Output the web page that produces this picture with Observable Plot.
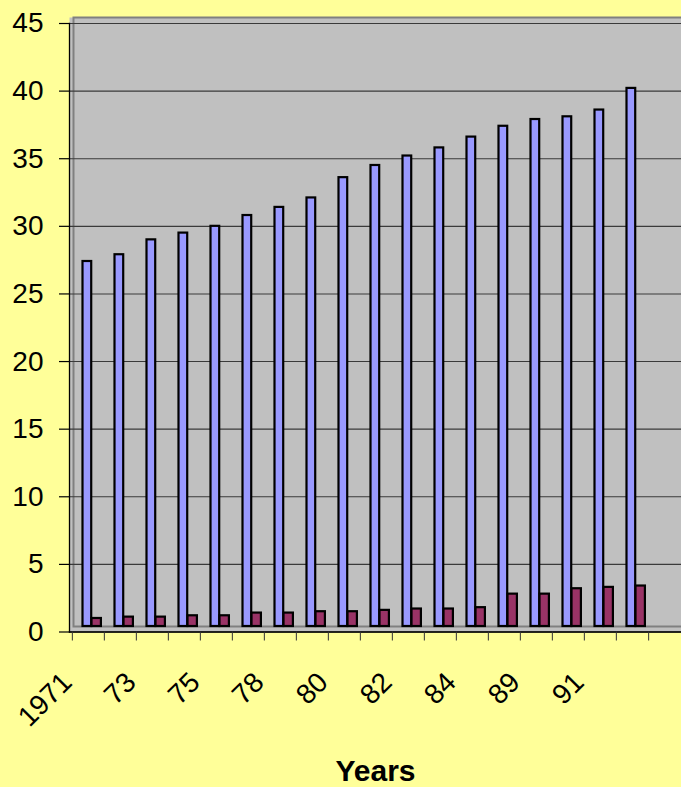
<!DOCTYPE html>
<html>
<head>
<meta charset="utf-8">
<script src="https://cdn.jsdelivr.net/npm/d3@7"></script>
<script src="https://cdn.jsdelivr.net/npm/@observablehq/plot@0.6"></script>
<style>
  html, body { margin: 0; padding: 0; background: #FFFF99; }
  #chart svg { display: block; }
</style>
</head>
<body>
<div id="chart"></div>
<script>
// Categories (only every other one is labelled in the original)
const years = ["1971","72","73","74","75","76","78","79","80","81","82","83","84","85","89","90","91","92"];
const shownLabels = ["1971","73","75","78","80","82","84","89","91"];
// Series values
const seriesBlue = [27.4, 27.9, 29.0, 29.5, 30.0, 30.8, 31.4, 32.1, 33.6, 34.5, 35.2, 35.8, 36.6, 37.4, 37.9, 38.1, 38.6, 40.2];
const seriesMaroon = [1.0, 1.1, 1.1, 1.2, 1.2, 1.4, 1.4, 1.5, 1.5, 1.6, 1.7, 1.7, 1.8, 2.8, 2.8, 3.2, 3.3, 3.4];
const yTicks = [0, 5, 10, 15, 20, 25, 30, 35, 40, 45];
const xTitle = ["Years"];

const blueRows = years.map((y, i) => ({year: y, value: seriesBlue[i]}));
const maroonRows = years.map((y, i) => ({year: y, value: seriesMaroon[i]}));

const W = 681, H = 787;
const xRange = [69, 650.3];
const bw = (xRange[1] - xRange[0]) / years.length;
const font = "'Liberation Sans', Arial, sans-serif";

const chart = Plot.plot({
  width: W,
  height: H,
  marginLeft: 69,
  marginRight: 0,
  marginTop: 23,
  marginBottom: 155.5,
  style: {background: "#FFFF99", fontFamily: font, color: "black", overflow: "visible"},
  x: {type: "band", domain: years, range: xRange, padding: 0, axis: null, label: null},
  y: {domain: [0, 45], axis: null, label: null},
  marks: [
    // plot area (walls + floor)
    Plot.frame({fill: "#C0C0C0", insetTop: -6}),
    Plot.frame({stroke: "#808080", strokeWidth: 2, insetTop: -6, insetLeft: 4, insetBottom: 5.5, insetRight: -10}),
    Plot.gridY(yTicks, {stroke: "#3a3a3a", strokeOpacity: 1, strokeWidth: 1.1}),
    // bars
    Plot.barY(blueRows, {x: "year", y: "value", fill: "#9999FF", stroke: "black", strokeWidth: 2.2,
      insetLeft: 10.5, insetRight: bw - 19.5, insetBottom: 5.5}),
    Plot.barY(maroonRows, {x: "year", y: "value", fill: "#993366", stroke: "black", strokeWidth: 2.2,
      insetLeft: 19.5, insetRight: bw - 29.2, insetBottom: 5.5}),
    // axis lines
    Plot.frame({anchor: "left", stroke: "black", strokeWidth: 1.3}),
    Plot.frame({anchor: "bottom", stroke: "black", strokeWidth: 1.3}),
    // y axis
    Plot.axisY(yTicks, {label: null, tickSize: 10, tickPadding: 16, fontSize: 28, stroke: "black", strokeWidth: 1.2, fill: "black"}),
    // x tick marks at category boundaries
    Plot.axisX({label: null, tickSize: 9, tickFormat: () => "", dx: -bw / 2, stroke: "#333", strokeWidth: 1}),
    Plot.axisX([years[years.length - 1]], {label: null, tickSize: 9, tickFormat: () => "", dx: bw / 2, stroke: "#333", strokeWidth: 1}),
    // rotated category labels
    Plot.text(shownLabels, {x: d => d, frameAnchor: "bottom", rotate: -45, textAnchor: "end", lineAnchor: "bottom",
      dx: -15, dy: 52, fontSize: 28, fill: "black"}),
    // axis title
    Plot.text(xTitle, {frameAnchor: "bottom", lineAnchor: "bottom", dy: 148.5, fontSize: 30, fontWeight: "bold", fill: "black"})
  ]
});

document.getElementById("chart").appendChild(chart);
</script>
</body>
</html>
